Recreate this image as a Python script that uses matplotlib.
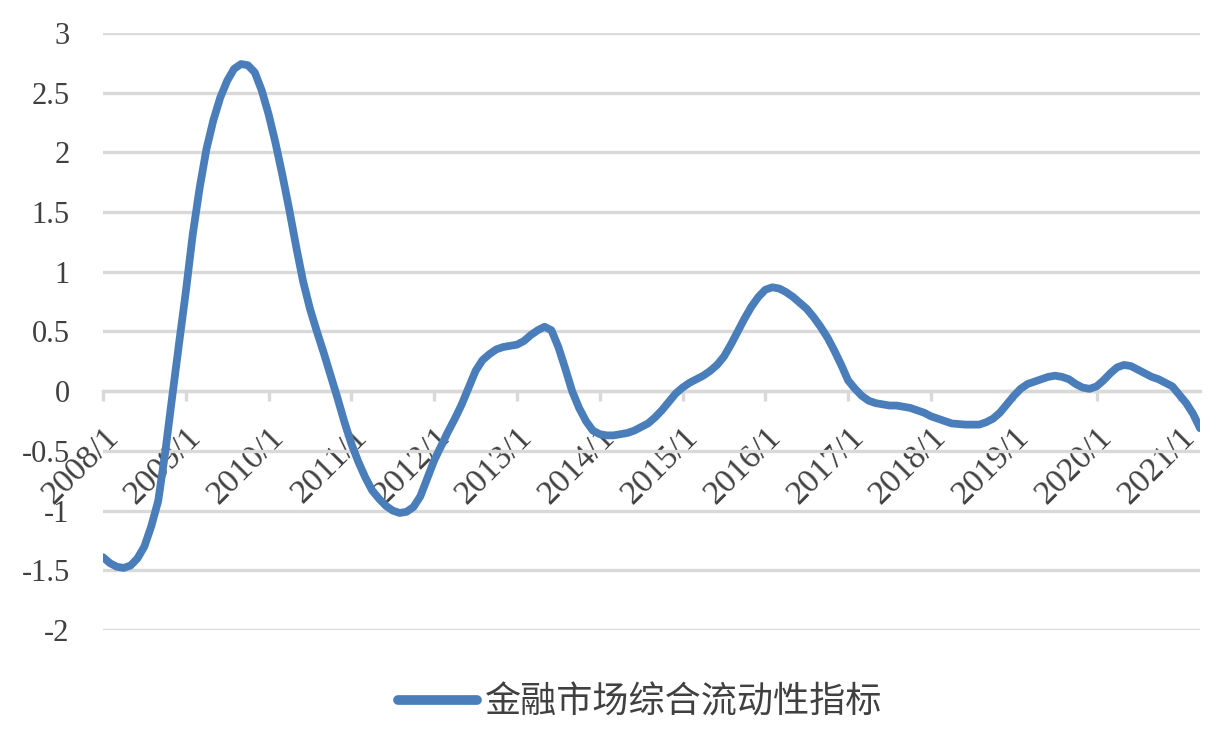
import matplotlib
matplotlib.use("Agg")
import matplotlib.pyplot as plt
import numpy as np

# Monthly index from 2008/1 to 2021/4
values = [
    -1.39, -1.44, -1.47, -1.48, -1.46, -1.40, -1.30, -1.13, -0.92, -0.52,
    -0.06, 0.39, 0.83, 1.31, 1.70, 2.03, 2.27, 2.46, 2.60, 2.70,
    2.74, 2.73, 2.67, 2.52, 2.32, 2.08, 1.81, 1.52, 1.21, 0.92,
    0.69, 0.50, 0.32, 0.13, -0.06, -0.26, -0.44, -0.59, -0.72, -0.83,
    -0.90, -0.96, -1.00, -1.02, -1.01, -0.97, -0.88, -0.73, -0.58, -0.46,
    -0.34, -0.23, -0.11, 0.03, 0.17, 0.26, 0.31, 0.35, 0.37, 0.38,
    0.39, 0.42, 0.47, 0.51, 0.54, 0.51, 0.37, 0.19, 0.00, -0.14,
    -0.25, -0.33, -0.36, -0.37, -0.37, -0.36, -0.35, -0.33, -0.30, -0.27,
    -0.22, -0.16, -0.09, -0.02, 0.03, 0.07, 0.10, 0.13, 0.17, 0.22,
    0.29, 0.39, 0.50, 0.61, 0.71, 0.79, 0.85, 0.87, 0.86, 0.83,
    0.79, 0.74, 0.69, 0.62, 0.54, 0.45, 0.34, 0.22, 0.09, 0.02,
    -0.04, -0.08, -0.10, -0.11, -0.12, -0.12, -0.13, -0.14, -0.16, -0.18,
    -0.21, -0.23, -0.25, -0.27, -0.275, -0.28, -0.28, -0.28, -0.26, -0.23,
    -0.18, -0.11, -0.04, 0.02, 0.06, 0.08, 0.10, 0.12, 0.13, 0.12,
    0.10, 0.06, 0.03, 0.02, 0.04, 0.09, 0.15, 0.20, 0.22, 0.21,
    0.18, 0.15, 0.12, 0.10, 0.07, 0.04, -0.03, -0.10, -0.19, -0.31,
]
series_name = "金融市场综合流动性指标"
x_tick_labels = [f"{y}/1" for y in range(2008, 2022)]
y_ticks = [-2, -1.5, -1, -0.5, 0, 0.5, 1, 1.5, 2, 2.5, 3]
y_tick_labels = ["-2", "-1.5", "-1", "-0.5", "0", "0.5", "1", "1.5", "2", "2.5", "3"]

n = len(values)
x = np.arange(n)

plt.rcParams['font.family'] = ['Liberation Serif', 'DejaVu Serif']

fig = plt.figure(figsize=(12.21, 7.35), dpi=100)
ax = fig.add_axes([103/1221, 1 - 630/735, (1200-103)/1221, (630-33)/735])

grid_color = '#d9d9d9'
line_color = '#4a7ebb'
text_color = '#404040'

ax.plot(x, values, color=line_color, lw=5.6, solid_joinstyle='round',
        solid_capstyle='round', label=series_name, zorder=3)

ax.set_xlim(0, n - 1)
ax.set_ylim(-2, 3)
ax.set_yticks(y_ticks)
ax.set_yticklabels(y_tick_labels)
ax.grid(axis='y', color=grid_color, lw=2.4, zorder=0)
ax.set_axisbelow(True)

for s in ['left', 'right', 'top']:
    ax.spines[s].set_visible(False)
ax.spines['bottom'].set_position(('data', 0))
ax.spines['bottom'].set_color(grid_color)
ax.spines['bottom'].set_linewidth(2.4)
ax.spines['bottom'].set_zorder(1)

ax.tick_params(axis='y', length=0, pad=24, labelsize=22, labelcolor=text_color)
xt = np.arange(0, n, 12)
ax.set_xticks(xt)
ax.set_xticklabels(x_tick_labels[:len(xt)])
ax.tick_params(axis='x', direction='out', length=7, width=2.4, color=grid_color,
               labelsize=24.5, labelcolor=text_color, pad=15)
for lab in ax.get_xticklabels():
    lab.set_rotation(45)
    lab.set_ha('right')
    lab.set_va('top')
    lab.set_rotation_mode('anchor')

leg = fig.legend(loc='center', bbox_to_anchor=(640/1221, 1 - 703/735),
                 frameon=False, handlelength=2.2, handletextpad=0.2,
                 prop={'family': ['Noto Sans CJK SC'], 'size': 26})
for t in leg.get_texts():
    t.set_color(text_color)
for h in leg.get_lines():
    h.set_linewidth(7)
    h.set_solid_capstyle('round')

fig.savefig('out.png', dpi=100)
